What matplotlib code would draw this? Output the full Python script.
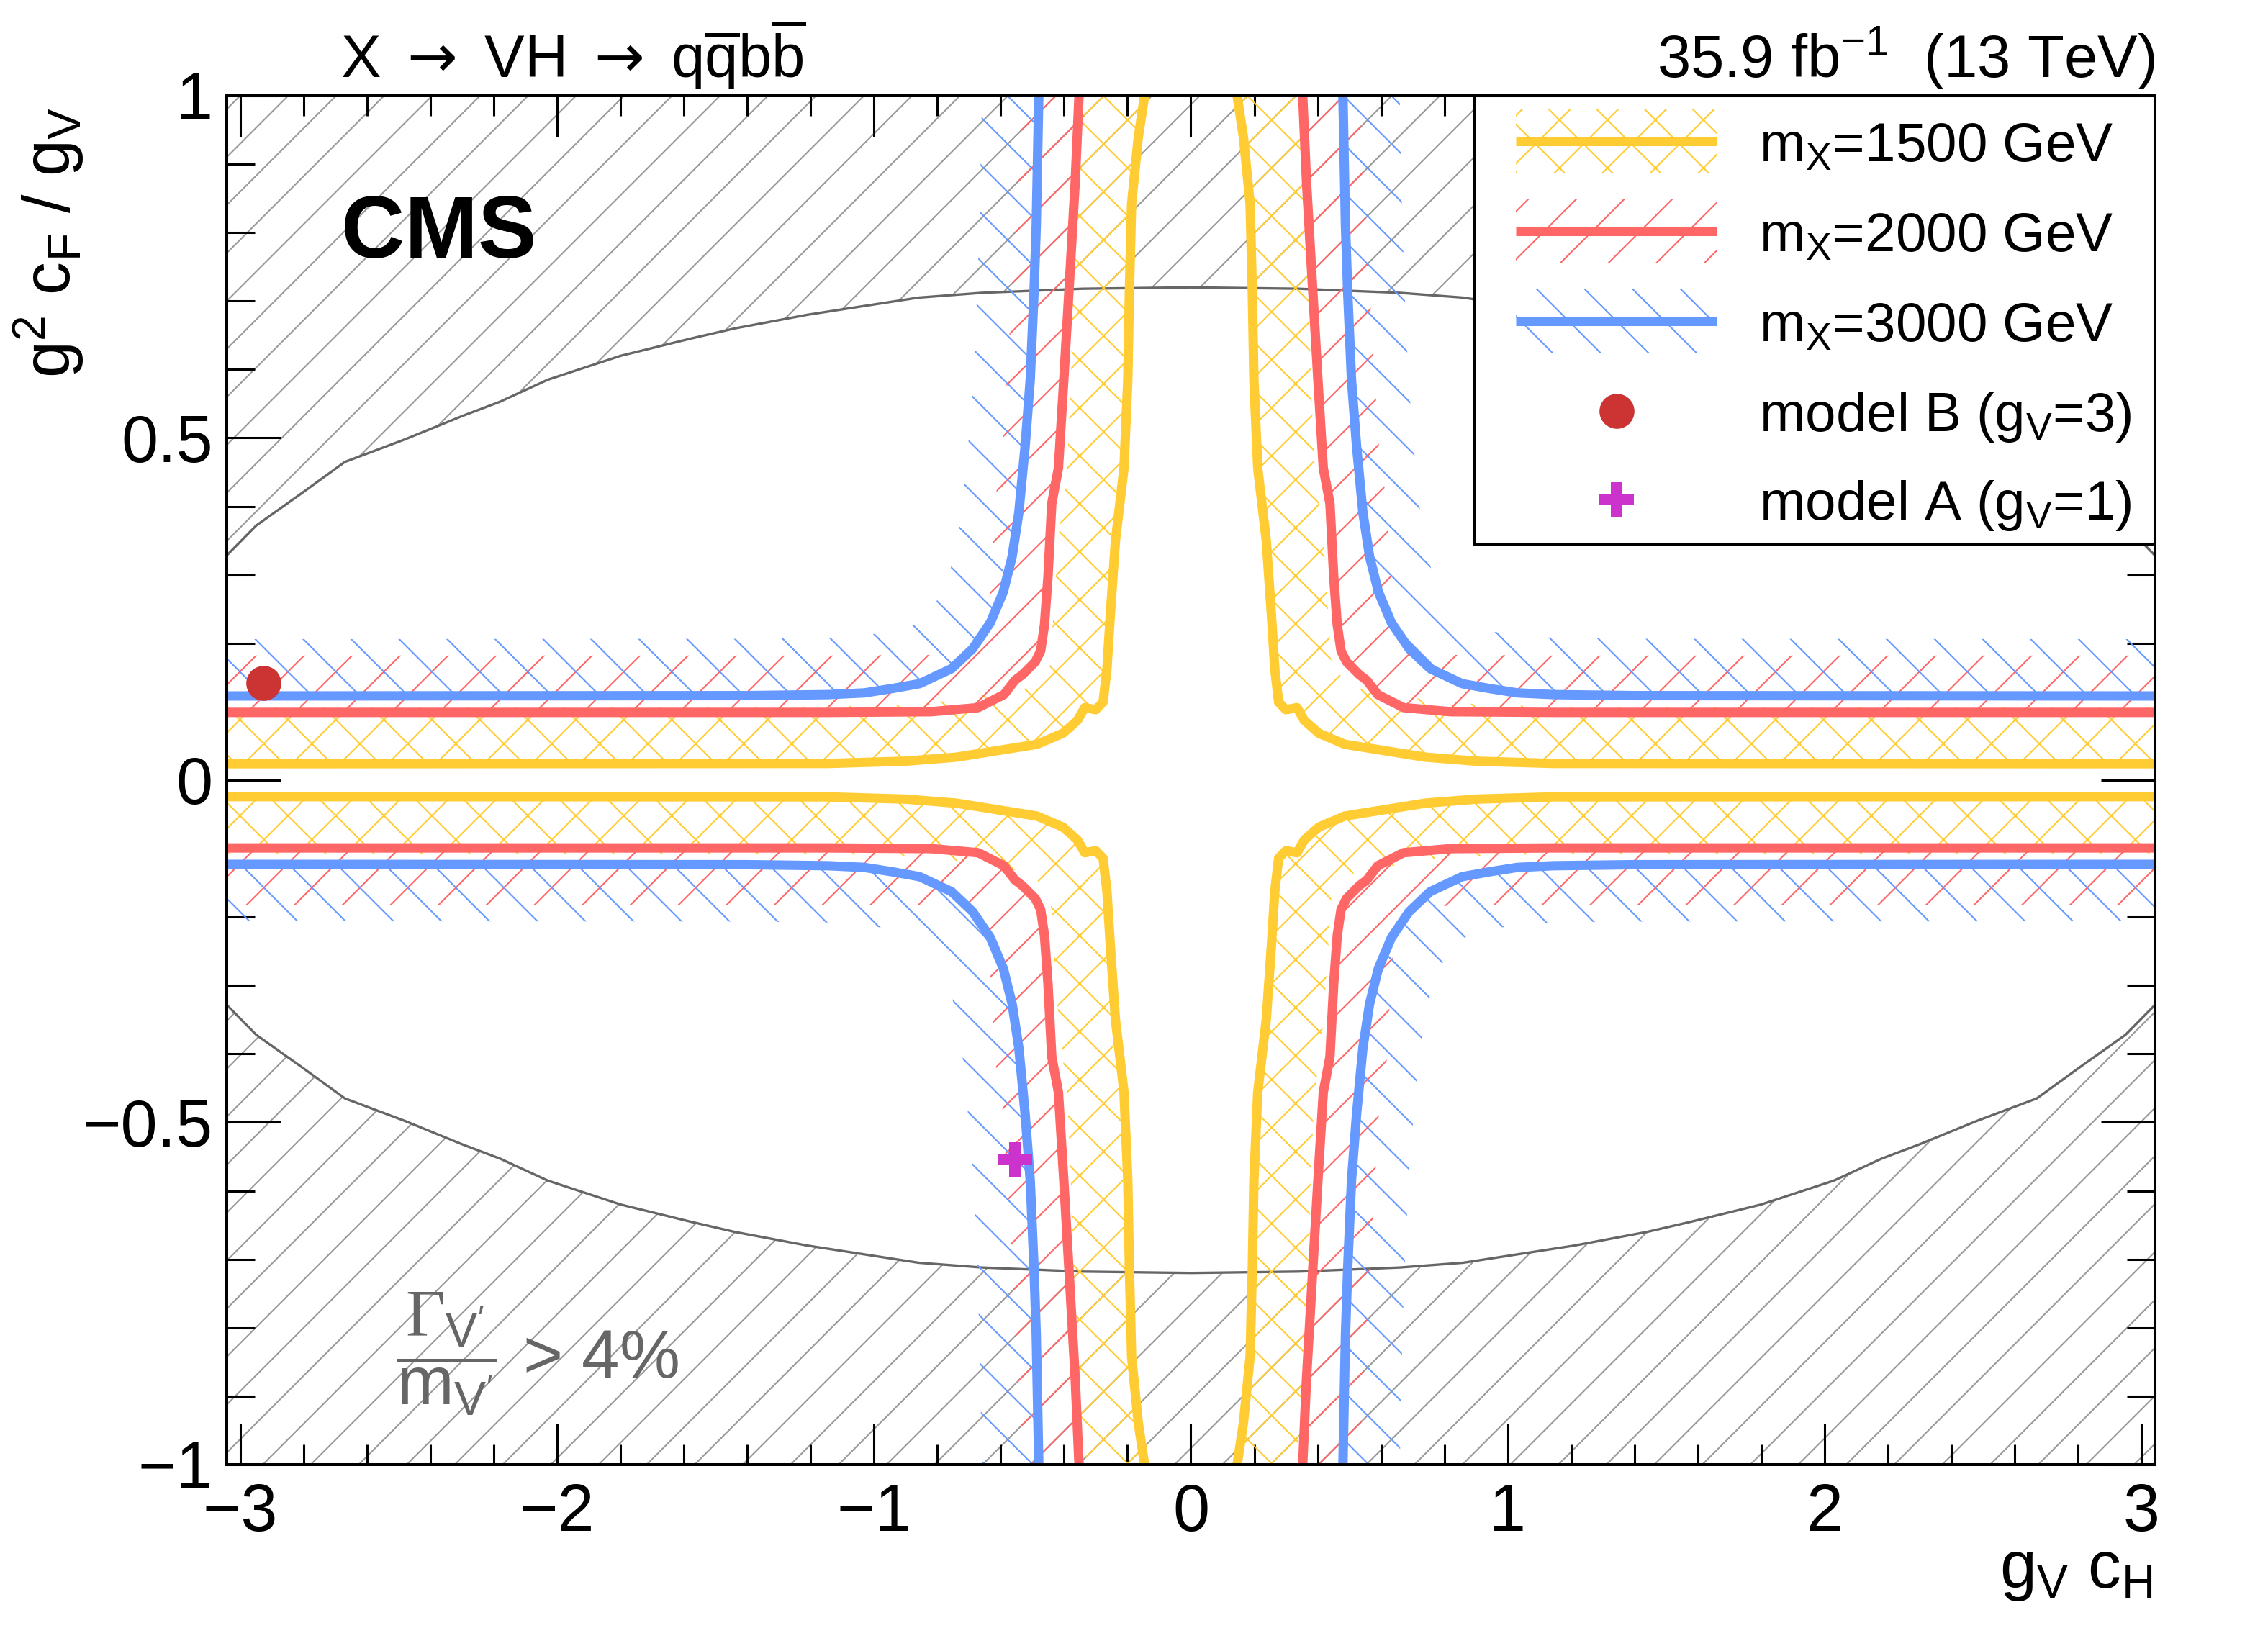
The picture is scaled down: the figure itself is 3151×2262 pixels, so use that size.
import numpy as np
import matplotlib
matplotlib.use("Agg")
import matplotlib.pyplot as plt
from matplotlib.patches import Rectangle, Polygon
from matplotlib.ticker import MultipleLocator, FuncFormatter

plt.rcParams['font.family'] = ['Liberation Sans', 'DejaVu Sans']
plt.rcParams['mathtext.fontset'] = 'custom'
plt.rcParams['mathtext.rm'] = 'Liberation Sans'
plt.rcParams['mathtext.it'] = 'Liberation Sans:italic'
plt.rcParams['mathtext.bf'] = 'Liberation Sans:bold'
plt.rcParams['mathtext.cal'] = 'Liberation Serif'
plt.rcParams['mathtext.sf'] = 'DejaVu Sans'
plt.rcParams['hatch.linewidth'] = 0.75

# exclusion contours, upper-left quadrant;
# the plot is symmetric in both axes, the other quadrants are mirrors
x1500 = [-3.10, -1.144, -0.901, -0.740, -0.486, -0.404, -0.358, -0.335, -0.300, -0.277,
         -0.265, -0.254, -0.238, -0.211, -0.199, -0.194, -0.187, -0.166, -0.146, -0.140]
y1500 = [0.024, 0.0244, 0.0277, 0.0336, 0.0524, 0.0685, 0.0873, 0.106, 0.103, 0.114,
         0.162, 0.243, 0.350, 0.456, 0.585, 0.713, 0.842, 0.939, 1.0, 1.03]

x2000 = [-3.10, -1.144, -0.82, -0.671, -0.590, -0.555, -0.532, -0.491, -0.474, -0.462,
         -0.451, -0.439, -0.418, -0.401, -0.385, -0.365, -0.353, -0.350]
y2000 = [0.099, 0.099, 0.100, 0.106, 0.125, 0.146, 0.154, 0.173, 0.189, 0.227,
         0.297, 0.404, 0.456, 0.585, 0.713, 0.874, 1.0, 1.03]

x3000 = [-3.10, -1.40, -1.144, -1.03, -0.941, -0.856, -0.755, -0.689, -0.633, -0.592,
         -0.564, -0.543, -0.523, -0.507, -0.495, -0.488, -0.480, -0.478]
y3000 = [0.123, 0.1235, 0.125, 0.1275, 0.134, 0.141, 0.163, 0.192, 0.230, 0.275,
         0.327, 0.391, 0.488, 0.585, 0.713, 0.810, 1.0, 1.04]

# Gamma/m > 4% boundary, left half of the upper branch
gray_x = [-3.05, -2.95, -2.81, -2.67, -2.48, -2.30, -2.18, -2.03, -1.80, -1.58,
          -1.44, -1.21, -1.00, -0.86, -0.66, -0.34, 0.0]
gray_y = [0.325, 0.372, 0.418, 0.465, 0.498, 0.532, 0.553, 0.585, 0.620, 0.645,
          0.660, 0.680, 0.695, 0.705, 0.712, 0.718, 0.720]

mass_labels = [r"m$_{\mathrm{X}}$=1500 GeV", r"m$_{\mathrm{X}}$=2000 GeV", r"m$_{\mathrm{X}}$=3000 GeV"]
mass_colors = ['#ffcc33', '#ff6666', '#6699ff']
mass_hatches = ['x', '/', '\\']

model_b = (-2.928, 0.142)
model_a = (-0.555, -0.554)

fig = plt.figure(figsize=(15.755, 11.31), dpi=200)
ax = fig.add_axes([0.09997, 0.10036, 0.85020, 0.84085])
ax.set_xlim(-3.043, 3.043)
ax.set_ylim(-1, 1)

# pixel scale of data units, for the fixed-width hatched bands
p = ax.transData.transform([(0, 0), (1, 1)])
sx, sy = p[1, 0] - p[0, 0], p[1, 1] - p[0, 1]


def band(xs, ys, dist=79.0):
    xs = np.asarray(xs, float)
    ys = np.asarray(ys, float)
    px, py = xs * sx, ys * sy
    tx, ty = np.gradient(px), np.gradient(py)
    n = np.hypot(tx, ty)
    ox = (px - dist * ty / n) / sx
    oy = (py + dist * tx / n) / sy
    return np.concatenate([xs, ox[::-1]]), np.concatenate([ys, oy[::-1]])


# gray region
gx = np.concatenate([gray_x, -np.array(gray_x[::-1][1:])])
gy = np.concatenate([gray_y, gray_y[::-1][1:]])
ax.fill_between(gx, gy, 1.0, facecolor='none', edgecolor='#999999', hatch='/', lw=0, zorder=1)
ax.fill_between(gx, -1.0, -gy, facecolor='none', edgecolor='#999999', hatch='/', lw=0, zorder=1)
ax.plot(gx, gy, color='#666666', lw=1.2, zorder=2)
ax.plot(gx, -gy, color='#666666', lw=1.2, zorder=2)

curves = [(x1500, y1500), (x2000, y2000), (x3000, y3000)]
for (cx, cy), col, h in zip(curves, mass_colors, mass_hatches):
    bx, by = band(cx, cy)
    for fx in (1, -1):
        for fy in (1, -1):
            ax.add_patch(Polygon(np.column_stack([fx * bx, fy * by]), closed=True,
                                 facecolor='none', edgecolor=col, hatch=h, lw=0, zorder=3))
for (cx, cy), col in zip(curves, mass_colors):
    for fx in (1, -1):
        for fy in (1, -1):
            ax.plot(fx * np.asarray(cx), fy * np.asarray(cy), color=col, lw=4.7,
                    solid_joinstyle='round', zorder=4)

ax.plot(*model_b, 'o', ms=16.5, color='#cc3333', zorder=6)
ax.plot(*model_a, 'P', ms=17, color='#cc33cc', mew=0, zorder=6)

# axes style
ax.xaxis.set_major_locator(MultipleLocator(1))
ax.xaxis.set_minor_locator(MultipleLocator(0.2))
ax.yaxis.set_major_locator(MultipleLocator(0.5))
ax.yaxis.set_minor_locator(MultipleLocator(0.1))
ax.yaxis.set_major_formatter(FuncFormatter(lambda v, pos: f"{v:g}".replace('-', '\u2212')))
ax.tick_params(which='both', direction='in', top=True, right=True, width=1.1, labelsize=33)
ax.tick_params(axis='x', which='major', length=20.5, pad=9)
ax.tick_params(axis='x', which='minor', length=10)
ax.tick_params(axis='y', which='major', length=27, pad=7)
ax.tick_params(axis='y', which='minor', length=14)
for s in ax.spines.values():
    s.set_linewidth(1.45)
    s.set_zorder(20)

# legend box
ax.add_patch(Rectangle((0.647, 0.6725), 0.353, 0.3275, transform=ax.transAxes,
                       facecolor='white', edgecolor='black', lw=1.45, zorder=10))
rows = [0.9669, 0.9011, 0.8354, 0.7697, 0.7050]
for yc, lab, col, h in zip(rows, mass_labels, mass_colors, mass_hatches):
    ax.add_patch(Rectangle((0.6685, yc - 0.02366), 0.1042, 0.0473, transform=ax.transAxes,
                           facecolor='none', edgecolor=col, hatch=h, lw=0, zorder=11))
    ax.plot([0.6685, 0.7727], [yc, yc], transform=ax.transAxes, color=col, lw=4.7,
            solid_capstyle='butt', zorder=12)
    ax.text(0.7947, yc - 0.0147, lab, transform=ax.transAxes, fontsize=27.5,
            va='baseline', zorder=12)
ax.plot(0.7208, rows[3], 'o', ms=16.5, color='#cc3333', transform=ax.transAxes, zorder=12)
ax.text(0.7947, rows[3] - 0.0147, r"model B (g$_{\mathrm{V}}$=3)", transform=ax.transAxes,
        fontsize=27.5, va='baseline', zorder=12)
ax.plot(0.7208, rows[4], 'P', ms=17, mew=0, color='#cc33cc', transform=ax.transAxes, zorder=12)
ax.text(0.7947, rows[4] - 0.0147, r"model A (g$_{\mathrm{V}}$=1)", transform=ax.transAxes,
        fontsize=27.5, va='baseline', zorder=12)

# texts
ax.text(0.0594, 0.8817, "CMS", transform=ax.transAxes, fontsize=44, fontweight='bold',
        va='baseline', zorder=12)
ax.text(0.088, 0.081, r"$\dfrac{\mathcal{\Gamma}_{\mathrm{V'}}}{\mathrm{m}_{\mathrm{V'}}}$ > 4%",
        transform=ax.transAxes, fontsize=34, color='#666666', va='center', zorder=12)
fig.text(0.1501, 0.9523,
         r"X $\mathsf{\rightarrow}$ VH $\mathsf{\rightarrow}$ "
         r"q$\overline{\mathrm{q}}$b$\overline{\mathrm{b}}$",
         fontsize=30, va='baseline')
fig.text(0.9502, 0.9523, r"35.9 fb$^{-1}$  (13 TeV)", fontsize=30, ha='right', va='baseline')
ax.text(0.9985, -0.090, r"g$_{\mathrm{V}}$ c$_{\mathrm{H}}$", transform=ax.transAxes,
        fontsize=33, ha='right', va='baseline')
ax.text(-0.081, 0.992, r"g$^{2}$ c$_{\mathrm{F}}$ / g$_{\mathrm{V}}$", transform=ax.transAxes,
        fontsize=33, rotation=90, rotation_mode='anchor', ha='right', va='baseline')

fig.savefig('out.png', dpi=200)
